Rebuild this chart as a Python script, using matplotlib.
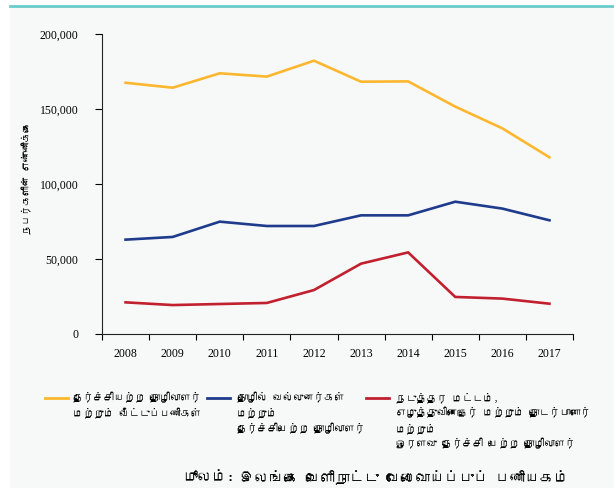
import numpy as np
import matplotlib
matplotlib.use('Agg')
import matplotlib.pyplot as plt
from matplotlib.patches import Rectangle
from matplotlib.lines import Line2D
from matplotlib import font_manager
from matplotlib.ft2font import FT2Font

# Datos del gráfico
years = ['2008', '2009', '2010', '2011', '2012', '2013', '2014', '2015', '2016', '2017']
unskilled = [167500, 164200, 173800, 171600, 182200, 168200, 168400, 151600, 137100, 117800]
professional = [62900, 64700, 74900, 72000, 72000, 79100, 79100, 88200, 83600, 75800]
middle = [21100, 19300, 20000, 20700, 29300, 46900, 54400, 24700, 23600, 20200]

series_labels = [
    'தேர்ச்சியற்ற தொழிலாளர்\nமற்றும் வீட்டுப்பணிகள்',
    'தொழில் வல்லுனர்கள்\nமற்றும்\nதேர்ச்சிபெற்ற தொழிலாளர்',
    'நடுத்தர மட்டம்,\nஎழுத்துவினைஞர் மற்றும் தொடர்பானோர்\nமற்றும்\nஓரளவு தேர்ச்சி பெற்ற தொழிலாளர்',
]
y_label = 'நபர்களின் எண்ணிக்கை'
source_head = 'மூலம்:'
source_body = 'இலங்கை வெளிநாட்டு வேலைவாய்ப்புப் பணியகம்'

colors = ['#FDB72F', '#1F3B8C', '#C2202F']


# Buscar una fuente instalada con glifos tamiles
def find_tamil_font():
    for f in font_manager.fontManager.ttflist:
        try:
            if 0x0BA4 in FT2Font(f.fname).get_charmap():
                return f.name
        except Exception:
            pass
    return None


tamil = find_tamil_font()
fams = [tamil, 'DejaVu Sans'] if tamil else ['DejaVu Sans']

fig = plt.figure(figsize=(6.14, 4.88), dpi=100)
fig.patch.set_facecolor('white')

# Fondo del panel y línea superior
fig.add_artist(Rectangle((10 / 614, 0), 1, 1 - 6 / 488, transform=fig.transFigure,
                         facecolor='#F7F9F9', edgecolor='none', zorder=-10))
fig.add_artist(Line2D([10 / 614, 1], [1 - 6 / 488, 1 - 6 / 488], transform=fig.transFigure,
                      color='#6CCBCB', lw=2))

ax = fig.add_axes([102 / 614, 1 - 334 / 488, 471 / 614, 300 / 488])
ax.set_facecolor('none')

x = np.arange(len(years)) + 0.5
for vals, c in zip([unskilled, professional, middle], colors):
    ax.plot(x, vals, color=c, lw=1.9, solid_joinstyle='miter')

ax.set_xlim(0, len(years))
ax.set_ylim(0, 200000)
ax.set_xticks(np.arange(len(years) + 1))
ax.set_xticklabels([])
ax.set_xticks(x, minor=True)
ax.set_xticklabels(years, minor=True, fontfamily='Liberation Serif', fontsize=8.5)
ax.tick_params(axis='x', which='minor', length=0, pad=10)
ax.tick_params(axis='x', which='major', length=4, width=0.8, direction='out')
ax.set_yticks([0, 50000, 100000, 150000, 200000])
ax.set_yticklabels(['0', '50,000', '100,000', '150,000', '200,000'],
                   fontfamily='Liberation Serif', fontsize=8.5)
ax.tick_params(axis='y', length=5, width=0.8, direction='out', pad=12)

for s in ['top', 'right']:
    ax.spines[s].set_visible(False)
for s in ['left', 'bottom']:
    ax.spines[s].set_linewidth(0.8)
    ax.spines[s].set_color('#222222')

ax.set_ylabel(y_label, fontfamily=fams, fontsize=7)
ax.yaxis.set_label_coords(-0.148, 0.52)

# Leyenda manual debajo del gráfico
leg_line_x = [45, 207, 366]
leg_text_x = [73, 237, 396]
for lx, tx, c, lab in zip(leg_line_x, leg_text_x, colors, series_labels):
    fig.add_artist(Line2D([lx / 614, (lx + 23) / 614], [1 - 398 / 488, 1 - 398 / 488],
                          transform=fig.transFigure, color=c, lw=2))
    fig.text(tx / 614, 1 - 392 / 488, lab, ha='left', va='top',
             fontfamily=fams, fontsize=7.4, linespacing=1.5)

# Fuente de los datos
head = fig.text(183 / 614, 1 - 478 / 488, source_head, ha='left', va='center',
                fontfamily=fams, fontsize=10.5, style='italic')
body = fig.text(0, 1 - 478 / 488, source_body, ha='left', va='center',
                fontfamily=fams, fontsize=10.5)
fig.canvas.draw()
bb = head.get_window_extent()
body.set_x((bb.x1 + 6) / fig.bbox.width)

fig.savefig('out.png', dpi=100)
